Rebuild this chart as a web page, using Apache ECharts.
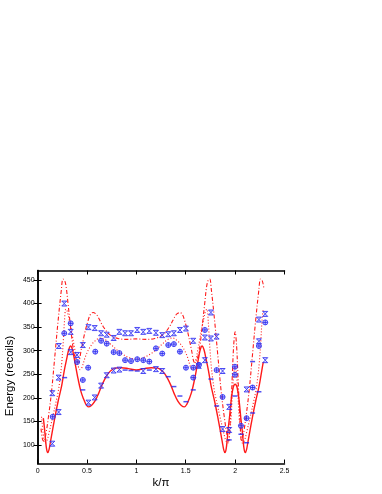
<!DOCTYPE html>
<html>
<head>
<meta charset="utf-8">
<script src="https://cdn.jsdelivr.net/npm/echarts@6/dist/echarts.min.js"></script>
<style>
html,body{margin:0;padding:0;background:#fff;}
#c{width:382px;height:494px;}
</style>
</head>
<body>
<div id="c"></div>
<script>
// ---- tick labels ----
const xTicks = [0, 0.5, 1, 1.5, 2, 2.5];
const yTicks = [100, 150, 200, 250, 300, 350, 400, 450];

// ---- solid curve (lowest band) ----
const solidK = [0.058,0.07,0.08,0.09,0.102,0.115,0.13,0.15,0.176,0.21,0.244,0.27,0.294,0.315,0.335,0.352,0.368,0.39,0.412,0.437,0.463,0.488,0.513,0.545,0.58,0.615,0.649,0.683,0.716,0.75,0.783,0.85,0.92,1.0,1.08,1.15,1.217,1.25,1.284,1.317,1.351,1.385,1.42,1.455,1.487,1.512,1.537,1.563,1.588,1.61,1.632,1.648,1.665,1.685,1.706,1.73,1.756,1.79,1.824,1.85,1.87,1.885,1.898,1.91,1.92,1.93,1.942,1.96,1.98,2.0,2.02,2.04,2.058,2.07,2.08,2.09,2.102,2.115,2.13,2.15,2.176,2.21,2.244,2.27,2.285];
const solidE = [157,135,112,93,84,90,107,130,160,195,226,258,282,302,310,303,287,262,238,215,199,187,181,184,193,208,226,241,252,259,263,264,262,259,262,264,263,259,252,241,226,208,193,184,181,187,199,215,238,262,287,303,310,302,282,258,226,195,160,130,107,90,84,93,112,135,157,195,222,229,222,195,157,135,112,93,84,90,107,130,160,195,226,258,276];

// ---- dotted curve (middle band) ----
const dotK = [0.04,0.055,0.075,0.095,0.12,0.159,0.185,0.21,0.23,0.245,0.26,0.272,0.285,0.298,0.315,0.341,0.36,0.375,0.40,0.429,0.45,0.48,0.51,0.548,0.59,0.632,0.68,0.733,0.79,0.85,0.92,1.0,1.08,1.15,1.21,1.267,1.32,1.368,1.41,1.452,1.49,1.52,1.55,1.571,1.60,1.625,1.64,1.659,1.685,1.702,1.715,1.728,1.74,1.755,1.77,1.79,1.815,1.841,1.88,1.905,1.925,1.945,1.96,1.975,1.99,2.0,2.01,2.025,2.04,2.055,2.075,2.095,2.12,2.159,2.185,2.21,2.23,2.245,2.26,2.272,2.285];
const dotE = [160,128,104,110,130,165,190,215,245,275,320,362,388,385,370,345,322,305,278,260,265,285,300,313,322,327,324,315,304,294,286,282,286,294,304,315,324,327,322,313,300,285,265,260,278,305,322,345,370,385,388,362,320,275,245,215,190,165,130,110,104,128,160,220,258,266,258,220,160,128,104,110,130,165,190,215,245,275,320,362,388];

// ---- dash-dot curve (top band) ----
const ddK = [0.035,0.05,0.065,0.085,0.11,0.142,0.173,0.206,0.24,0.257,0.275,0.29,0.308,0.331,0.358,0.382,0.41,0.443,0.477,0.51,0.535,0.561,0.59,0.611,0.662,0.73,0.814,0.9,1.0,1.1,1.186,1.27,1.338,1.389,1.41,1.439,1.465,1.49,1.523,1.557,1.59,1.618,1.642,1.669,1.692,1.71,1.725,1.743,1.76,1.794,1.827,1.858,1.89,1.915,1.935,1.95,1.97,1.985,2.0,2.015,2.03,2.05,2.065,2.085,2.11,2.142,2.173,2.206,2.24,2.257,2.275,2.29];
const ddE = [135,112,108,125,160,215,285,360,428,452,448,434,400,356,308,284,275,303,337,363,377,381,378,372,352,334,326,324,325,324,326,334,352,372,378,381,377,363,337,303,275,284,308,356,400,434,448,452,428,360,285,215,160,125,108,150,240,310,340,310,240,150,108,125,160,215,285,360,428,452,448,434];

// ---- data points: x with error caps ----
const hgK = [0.149,0.149,0.213,0.213,0.215,0.27,0.335,0.335,0.40,0.458,0.515,0.515,0.578,0.578,0.643,0.643,0.70,0.70,0.77,0.77,0.828,0.828,0.886,0.946,1.009,1.07,1.07,1.131,1.198,1.198,1.262,1.262,1.323,1.38,1.441,1.502,1.576,1.632,1.694,1.694,1.755,1.755,1.813,1.873,1.873,1.94,1.94,2.116,2.241,2.241,2.305,2.305];
const hgE = [103,210,170,243,310,400,340,297,291,312,350,190,348,201,337,226,334,248,327,258,340,260,337,337,344,340,257,342,338,261,333,257,335,337,344,347,321,268,280,328,381,326,330,257,134,181,132,218,320,366,378,280];

// ---- data points: circle with cross ----
const cpK = [0.153,0.27,0.335,0.40,0.458,0.512,0.584,0.643,0.70,0.77,0.828,0.886,0.946,1.009,1.07,1.131,1.198,1.262,1.323,1.38,1.441,1.502,1.576,1.576,1.634,1.694,1.813,1.873,1.998,1.998,2.059,2.116,2.177,2.241,2.305];
const cpE = [160,337,358,276,238,264,298,321,315,297,295,280,278,282,280,277,305,294,312,314,298,264,264,243,270,344,259,202,266,249,141,157,222,310,360];

// ---- data points: short error bars ----
const dsK = [0.274,0.458,0.886,0.946,1.009,1.131,1.323,1.38,1.441,1.502,1.576,1.755,1.813,1.94,1.998,2.059,2.116,2.177,2.177,2.241];
const dsE = [243,217,259,258,257,259,245,224,204,192,217,240,183,111,204,123,105,168,277,213];

const zip = (a, b) => a.map((v, i) => [v, b[i]]);

const BLUE = '#2424f0';
const LIGHT = 'rgba(140,140,255,0.55)';
const RED = '#ff1a1a';
const FONT = 'Liberation Sans, Arial, sans-serif';

const chart = echarts.init(document.getElementById('c'), null, {renderer: 'canvas'});

const axisLineStyle = {show: true, lineStyle: {color: '#000', width: 1.5}};
const tickStyle = {show: true, inside: true, length: 4, lineStyle: {color: '#000', width: 1}};

chart.setOption({
  animation: false,
  backgroundColor: '#fff',
  grid: {left: 37.6, right: 97.5, top: 270.5, bottom: 30.5, containLabel: false},
  xAxis: [
    {type: 'value', min: 0, max: 2.5, position: 'bottom',
     axisLine: axisLineStyle,
     axisTick: Object.assign({customValues: xTicks}, tickStyle),
     axisLabel: {customValues: xTicks, fontSize: 7, margin: 4, color: '#000', fontFamily: FONT},
     splitLine: {show: false}},
    {type: 'value', min: 0, max: 2.5, position: 'top',
     axisLine: axisLineStyle,
     axisTick: Object.assign({customValues: xTicks}, tickStyle),
     axisLabel: {show: false}, splitLine: {show: false}}
  ],
  yAxis: [
    {type: 'value', min: 61, max: 470, position: 'left',
     axisLine: axisLineStyle,
     axisTick: Object.assign({customValues: yTicks}, tickStyle),
     axisLabel: {customValues: yTicks, fontSize: 7, margin: 3, color: '#000', fontFamily: FONT},
     splitLine: {show: false}},
    {type: 'value', min: 61, max: 470, position: 'right',
     axisLine: axisLineStyle,
     axisTick: Object.assign({customValues: yTicks}, tickStyle),
     axisLabel: {show: false}, splitLine: {show: false}}
  ],
  graphic: [
    {type: 'text', x: 10, y: 376, rotation: Math.PI / 2,
     style: {text: 'Energy (recoils)', fontSize: 11.5, fill: '#000', fontFamily: FONT, align: 'center', verticalAlign: 'middle'}},
    {type: 'text', x: 161, y: 483,
     style: {text: 'k/π', fontSize: 11.5, fill: '#000', fontFamily: FONT, align: 'center', verticalAlign: 'middle'}}
  ],
  series: [
    {type: 'line', data: zip(solidK, solidE), showSymbol: false, smooth: 0.35,
     lineStyle: {color: RED, width: 1.4}, z: 2},
    {type: 'line', data: zip(dotK, dotE), showSymbol: false, smooth: 0.35,
     lineStyle: {color: RED, width: 1.1, type: [1, 2]}, z: 2},
    {type: 'line', data: zip(ddK, ddE), showSymbol: false, smooth: 0.35,
     lineStyle: {color: RED, width: 1.1, type: [4, 2, 1, 2]}, z: 2},
    {type: 'scatter', data: zip(hgK, hgE), symbol: 'path://M0,0L10,0L5,5L10,10L0,10L5,5Z',
     symbolSize: [5, 5], itemStyle: {color: LIGHT, borderColor: BLUE, borderWidth: 1}, z: 5},
    {type: 'scatter', data: zip(cpK, cpE), symbol: 'circle',
     symbolSize: 5, itemStyle: {color: LIGHT, borderColor: BLUE, borderWidth: 1}, z: 5},
    {type: 'scatter', data: zip(cpK, cpE), symbol: 'path://M5,0L5,10M0,5L10,5',
     symbolSize: 5, itemStyle: {color: 'none', borderColor: BLUE, borderWidth: 1}, z: 6},
    {type: 'scatter', data: zip(dsK, dsE), symbol: 'rect',
     symbolSize: [5, 1.5], itemStyle: {color: BLUE}, z: 5}
  ]
});
</script>
</body>
</html>
